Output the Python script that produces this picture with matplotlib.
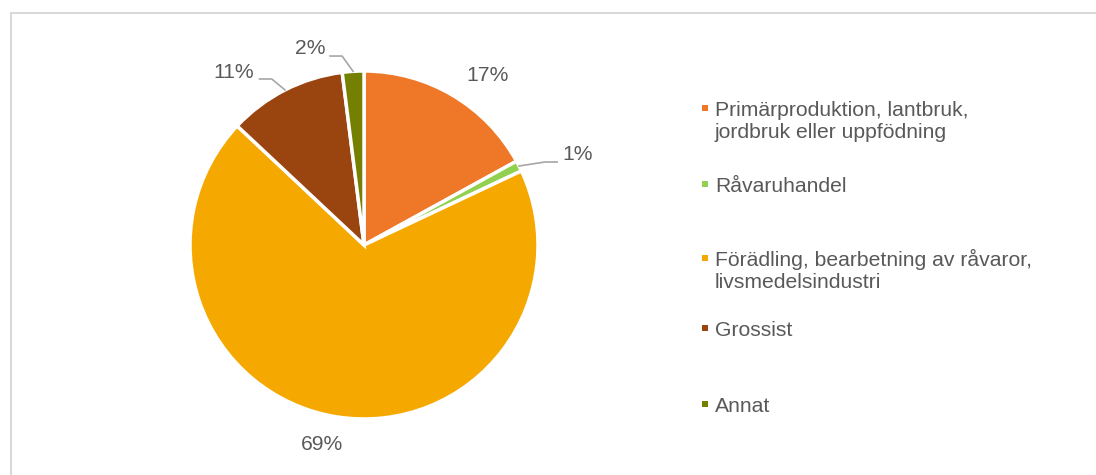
import numpy as np
import matplotlib.pyplot as plt
from matplotlib.patches import Rectangle

plt.rcParams['font.family'] = ['Liberation Sans', 'DejaVu Sans']

# data
categories = ["Primärproduktion, lantbruk,\njordbruk eller uppfödning",
              "Råvaruhandel",
              "Förädling, bearbetning av råvaror,\nlivsmedelsindustri",
              "Grossist",
              "Annat"]
shares = [17, 1, 69, 11, 2]
colors = ["#EF7828", "#92D050", "#F5A800", "#9A4510", "#768000"]

# layout (figure is 1096x475 px)
W, H = 1096, 475
cx, cy, R = 364, 245, 174
text_col = "#595959"
line_col = "#A6A6A6"
fs = 15.2

fig = plt.figure(figsize=(W / 100, H / 100), dpi=100)
fig.patch.set_facecolor("white")

# thin frame round the chart area
fig.patches.append(Rectangle((10.5 / W, -0.1), 1.2, (H - 13.5) / H + 0.1,
                             transform=fig.transFigure, fill=False,
                             edgecolor="#D9D9D9", lw=1.5))

ax = fig.add_axes([(cx - R) / W, (H - cy - R) / H, 2 * R / W, 2 * R / H])
wedges, _ = ax.pie(shares, colors=colors, startangle=90, counterclock=False,
                   radius=1.0, wedgeprops=dict(edgecolor="white", linewidth=2.5))
ax.set_xlim(-1, 1)
ax.set_ylim(-1, 1)
ax.axis("off")

# label placement: (x, y, ha) in pie units, and leader line (elbow, end) or None
label_pos = [(0.71, 0.977, "center"), (1.14, 0.52, "left"),
             (-0.241, -1.149, "center"), (-0.63, 0.994, "right"),
             (-0.224, 1.13, "right")]
leaders = [None, ((1.04, 0.477), (1.11, 0.477)), None,
           ((-0.53, 0.954), (-0.60, 0.954)),
           ((-0.126, 1.086), (-0.195, 1.086))]

for w, s, (lx, ly, ha), ld in zip(wedges, shares, label_pos, leaders):
    ax.text(lx, ly, f"{s}%", ha=ha, va="center", fontsize=fs,
            color=text_col, clip_on=False)
    if ld is not None:
        mid = np.deg2rad((w.theta1 + w.theta2) / 2)
        rim = (np.cos(mid), np.sin(mid))
        (ex, ey), (tx, ty) = ld
        ax.plot([rim[0], ex, tx], [rim[1], ey, ty], color=line_col,
                lw=1.2, clip_on=False)

# legend drawn by hand so the entry spacing matches
legend_y = [108, 184, 258, 328, 404]
line_step = 22
for lab, col, y in zip(categories, colors, legend_y):
    fig.patches.append(Rectangle((702 / W, (H - y - 3) / H), 6 / W, 6 / H,
                                 transform=fig.transFigure, facecolor=col,
                                 edgecolor="none"))
    for k, part in enumerate(lab.split("\n")):
        fig.text(715 / W, (H - y - 7.5 - k * line_step) / H, part,
                 ha="left", va="baseline", fontsize=fs, color=text_col,
                 transform=fig.transFigure)

fig.savefig("out.png", dpi=100)
